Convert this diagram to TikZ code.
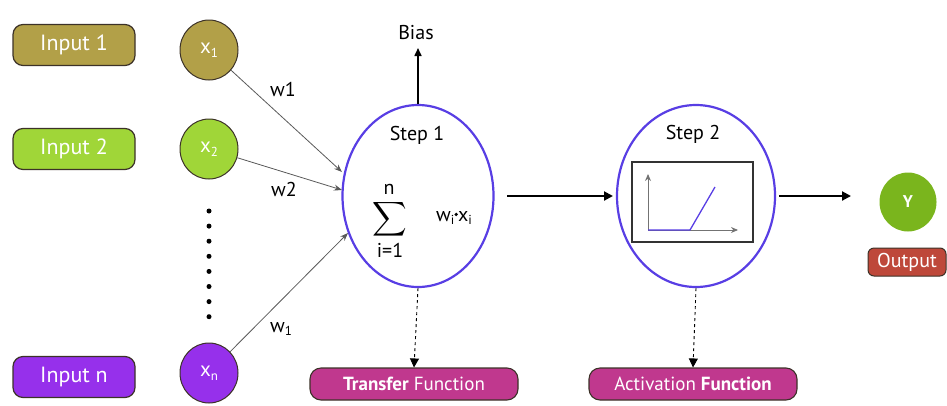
\documentclass[tikz,border=0pt]{standalone}
\usepackage{fontspec}
\usepackage{graphicx}
\setmainfont{PT Sans}
\usetikzlibrary{arrows.meta,shapes.geometric}
\definecolor{olivec}{RGB}{178,160,72}
\definecolor{limec}{RGB}{160,214,56}
\definecolor{purpc}{RGB}{150,48,235}
\definecolor{magc}{RGB}{192,56,142}
\definecolor{bluec}{RGB}{88,62,228}
\definecolor{ygreen}{RGB}{122,181,29}
\definecolor{outc}{RGB}{190,72,58}
\definecolor{edgec}{RGB}{60,50,40}
\newcommand{\sbs}[1]{\raisebox{-0.35ex}{\fontsize{13}{14}\selectfont #1}}
\newcommand{\mdot}{\raisebox{0.5ex}{\tikz\fill (0,0) circle (1.8pt);}}
\tikzset{
  inbox/.style={draw=edgec, line width=1.2pt, rounded corners=10pt, minimum width=122pt, minimum height=41pt, text=white, font=\fontsize{22}{24}\selectfont},
  xcirc/.style={draw=edgec, line width=1pt, ellipse, minimum width=58pt, minimum height=60pt, text=white, font=\fontsize{21}{23}\selectfont},
  stepell/.style={draw=bluec, line width=2.2pt, ellipse},
  fbox/.style={draw=edgec, line width=1.1pt, fill=magc, rounded corners=11pt, minimum width=208pt, minimum height=32pt, text=white, font=\fontsize{19}{21}\selectfont},
  warrow/.style={draw=black!65, line width=0.8pt, -{Stealth[length=8pt,width=6pt]}},
  bigarrow/.style={line width=2pt, -{Triangle[length=9pt,width=9pt]}},
  dasharrow/.style={dashed, line width=0.9pt, -{Triangle[length=9pt,width=9pt]}},
  lbl/.style={font=\fontsize{20}{22}\selectfont},
}
\begin{document}
\begin{tikzpicture}[x=1pt,y=-1pt]
\useasboundingbox (0,0) rectangle (947,405);
% inputs
\node[inbox, fill=olivec] (in1) at (74,45) {Input 1};
\node[inbox, fill=limec] (in2) at (74,149) {Input 2};
\node[inbox, fill=purpc] (inn) at (74,377) {Input n};
\node[xcirc, fill=olivec] (x1) at (209,50) {x\sbs{1}};
\node[xcirc, fill=limec] (x2) at (209,149) {x\sbs{2}};
\node[xcirc, fill=purpc] (xn) at (209,373) {x\sbs{n}};
% dots
\foreach \i in {0,...,7} { \fill (209,211+15.1*\i) circle (2.5pt); }
% step 1
\node[stepell, minimum width=151pt, minimum height=182pt] (s1) at (418,196) {};
\node[lbl] (s1t) at (417,135) {Step 1};
\node[inner sep=0pt] (sum) at (390,219) {\scalebox{2.4}{$\displaystyle\sum$}};
\node[lbl, inner sep=0pt] (sn) at (389,189) {n};
\node[lbl, inner sep=0pt] (si) at (390,250) {i=1};
\node[lbl] (wx) at (454,218) {w\sbs{i}\mdot x\sbs{i}};
\node[lbl] (bias) at (416,33) {Bias};
\coordinate (btop) at (418,48);
\draw[line width=1.6pt, -{Triangle[length=8pt,width=7pt]}] (s1.north) -- (btop);
% weights
\coordinate (a1) at (342,172);
\coordinate (a2) at (342,190);
\coordinate (an) at (348,233);
\draw[warrow] (x1) -- (a1);
\draw[warrow] (x2) -- (a2);
\draw[warrow] (xn) -- (an);
\node[lbl] (w1) at (283,89) {w1};
\node[lbl] (w2) at (284,189) {w2};
\node[lbl] (wn) at (281,329) {w\sbs{1}};
% step 2
\node[stepell, minimum width=158pt, minimum height=182pt] (s2) at (696,196) {};
\node[lbl] (s2t) at (693,134) {Step 2};
\node[draw=black!80, line width=1.1pt, minimum width=121pt, minimum height=80pt, inner sep=0pt] (graph) at (692.5,202) {};
\coordinate (org) at (648,230);
\coordinate (ytip) at (648,174);
\coordinate (xtip) at (738,230);
\draw[black!55, line width=0.9pt, -{Stealth[length=7pt,width=6pt]}] (org) -- (ytip);
\draw[black!55, line width=0.9pt, -{Stealth[length=7pt,width=6pt]}] (org) -- (xtip);
\draw[bluec, line width=1.3pt] (org) -- (690,230) -- (715,187);
% arrows
\coordinate (s1e) at (507,196);
\coordinate (s2w) at (613,196);
\draw[bigarrow] (s1e) -- (s2w);
\coordinate (s2e) at (779,196);
\coordinate (ya) at (851,196);
\draw[bigarrow] (s2e) -- (ya);
% output
\node[ellipse, fill=ygreen, minimum width=57pt, minimum height=59pt, text=white, font=\fontsize{17}{19}\selectfont\bfseries] (y) at (908,202) {Y};
\node[draw=edgec, line width=1pt, fill=outc, rounded corners=6pt, minimum width=78pt, minimum height=28pt, inner sep=1pt, text=white, font=\fontsize{20}{22}\selectfont] (out) at (907,262) {Output};
% functions
\node[fbox] (tf) at (414,384) {\textbf{Transfer} Function};
\node[fbox] (af) at (693,384) {Activation \textbf{Function}};
\draw[dasharrow] (s1.south) -- (tf.north);
\draw[dasharrow] (s2.south) -- (af.north);
\end{tikzpicture}
\end{document}
